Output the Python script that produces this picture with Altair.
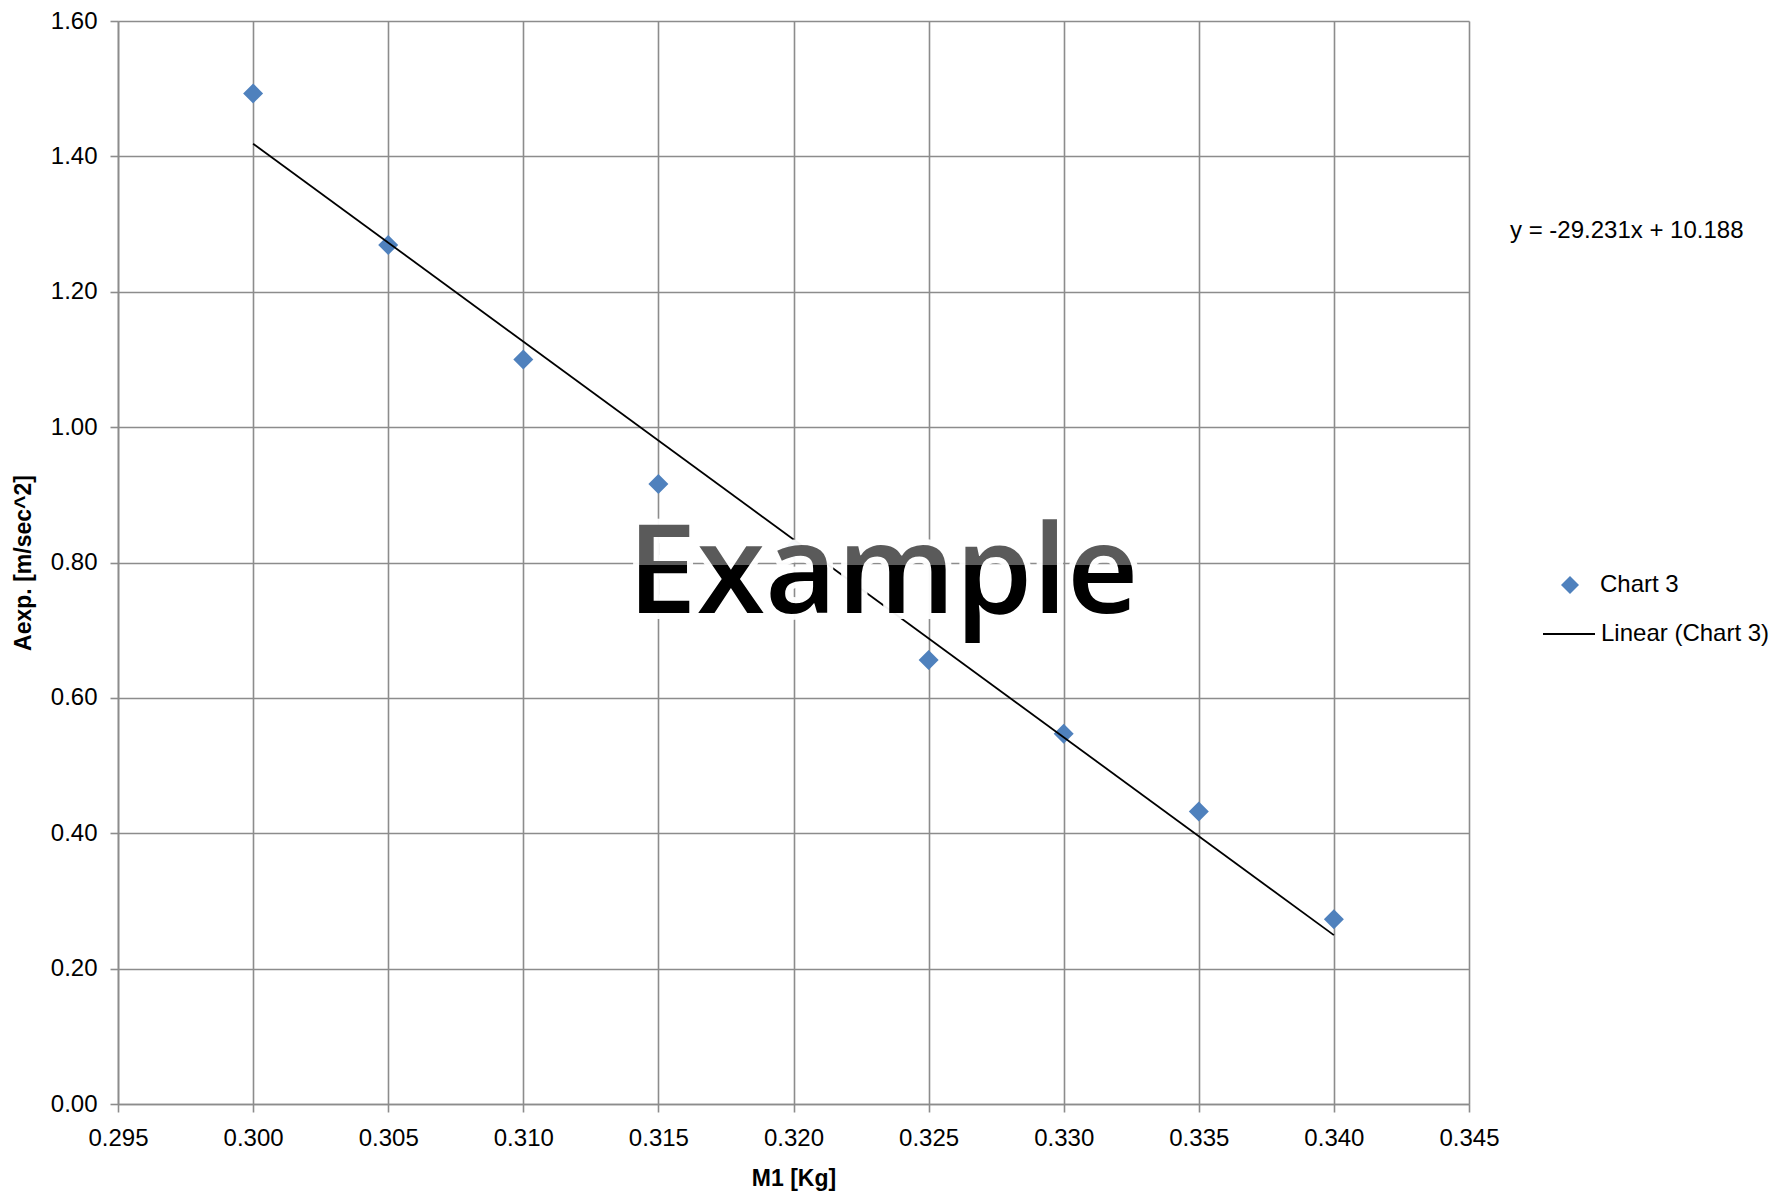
import altair as alt
import pandas as pd

# ---- data ----
m1 = [0.300, 0.305, 0.310, 0.315, 0.320, 0.325, 0.330, 0.335, 0.340]
aexp = [1.493, 1.269, 1.100, 0.916, 0.820, 0.656, 0.547, 0.432, 0.273]
slope = -29.231
intercept = 10.188
trend_x = [0.300, 0.340]
x_ticks = [0.295, 0.300, 0.305, 0.310, 0.315, 0.320, 0.325, 0.330, 0.335, 0.340, 0.345]
y_ticks = [0.0, 0.2, 0.4, 0.6, 0.8, 1.0, 1.2, 1.4, 1.6]
equation = "y = -29.231x + 10.188"
series_name = "Chart 3"
trend_name = "Linear (Chart 3)"

FONT = "Liberation Sans"
GRID = "#8c8c8c"
H = 1083

pts = pd.DataFrame({"m1": m1, "aexp": aexp, "s": series_name})
trend = pd.DataFrame({"m1": trend_x,
                      "aexp": [slope * x + intercept for x in trend_x],
                      "t": trend_name})

xs = alt.Scale(domain=[0.295, 0.345], nice=False, zero=False)
ys = alt.Scale(domain=[0.0, 1.6], nice=False)

x_enc = alt.X("m1:Q", scale=xs,
              axis=alt.Axis(values=x_ticks, format=".3f", title="M1 [Kg]",
                            labelPadding=14,
                            titleY=74, titleBaseline="middle"))
y_enc = alt.Y("aexp:Q", scale=ys,
              axis=alt.Axis(values=y_ticks, format=".2f", title="Aexp. [m/sec^2]",
                            labelPadding=13,
                            titleX=-95, titleY=H / 2, titleBaseline="middle",
                            titleAlign="center", titleAngle=-90))

points = alt.Chart(pts).mark_point(shape="diamond", filled=True, size=400,
                                   opacity=1, strokeWidth=0).encode(
    x=x_enc, y=y_enc,
    fill=alt.Fill("s:N", scale=alt.Scale(domain=[series_name], range=["#4f81bd"]),
                  legend=alt.Legend(title=None, orient="none", legendX=1440, legendY=552,
                                    symbolType="diamond", symbolSize=324,
                                    symbolStrokeWidth=0,
                                    labelFont=FONT, labelFontSize=24, labelLimit=400,
                                    labelColor="black", labelOffset=18, padding=0)),
)

line = alt.Chart(trend).mark_line(strokeWidth=1.8).encode(
    x="m1:Q", y="aexp:Q",
    stroke=alt.Stroke("t:N", scale=alt.Scale(domain=[trend_name], range=["black"]),
                      legend=alt.Legend(title=None, orient="none", legendX=1424, legendY=586,
                                        symbolType="stroke", symbolSize=2704,
                                        symbolStrokeWidth=1.8,
                                        labelFont=FONT, labelFontSize=24, labelLimit=400,
                                        labelColor="black", labelOffset=5, padding=0)),
)

eq = alt.Chart(pd.DataFrame({"t": [equation]})).mark_text(
    align="left", baseline="alphabetic", font=FONT, fontSize=24, color="black"
).encode(x=alt.value(1392), y=alt.value(217), text="t:N")

wm_df = pd.DataFrame({"t": ["Example"]})
wm_outline = alt.Chart(wm_df).mark_text(
    align="center", baseline="alphabetic", font="Open Sans", fontWeight=600,
    fontSize=124, fill="white", stroke="white", strokeWidth=12, opacity=0.95
).encode(x=alt.value(765), y=alt.value(592), text="t:N")
wm_fill = alt.Chart(wm_df).mark_text(
    align="center", baseline="alphabetic", font="Open Sans", fontWeight=600,
    fontSize=124,
    fill=alt.LinearGradient(gradient="linear", x1=0, y1=0, x2=0, y2=1,
                            stops=[alt.GradientStop(offset=0, color="#5a5a5a"),
                                   alt.GradientStop(offset=0.5, color="#5a5a5a"),
                                   alt.GradientStop(offset=0.501, color="#000000"),
                                   alt.GradientStop(offset=1, color="#000000")])
).encode(x=alt.value(765), y=alt.value(592), text="t:N")

chart = alt.layer(points, line, eq, wm_outline, wm_fill).properties(
    width=1351, height=H,
    autosize=alt.AutoSizeParams(type="none"),
    padding={"left": 110, "top": 13, "right": 304, "bottom": 87},
).configure_view(stroke=None).configure_axis(
    grid=True, gridColor=GRID, gridWidth=1.6, gridOpacity=1,
    domainColor=GRID, domainWidth=1.6, tickColor=GRID, tickWidth=1.6, tickSize=8,
    labelFont=FONT, labelFontSize=24, labelColor="black",
    titleFont=FONT, titleFontSize=23, titleFontWeight="bold", titleColor="black",
    labelFlush=False, labelOverlap=False,
)

chart.save("out.html", embed_options={"renderer": "svg", "actions": False})
